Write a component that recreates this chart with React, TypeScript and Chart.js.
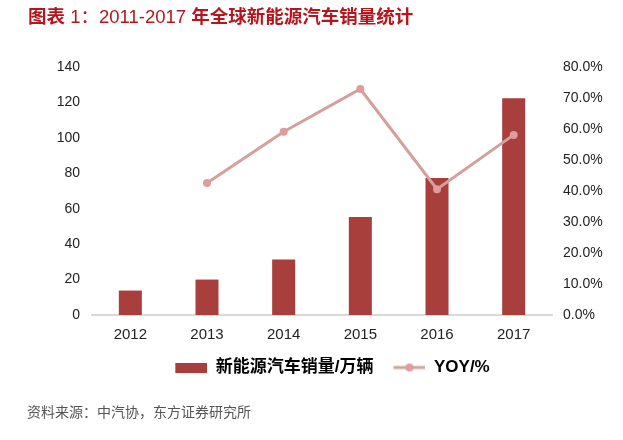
import React, { useEffect, useRef } from "react";
import { Chart, registerables } from "chart.js";

Chart.register(...registerables);

const years = ["2012", "2013", "2014", "2015", "2016", "2017"];
const sales = [13.8, 20.0, 31.3, 55.3, 77.4, 122.4];
const yoy = [null, 42.6, 59.1, 72.9, 40.6, 58.1];
const salesLabel = "新能源汽车销量/万辆";
const yoyLabel = "YOY/%";

const BAR_COLOR = "#A83F3D";
const LINE_COLOR = "#D3A09D";
const POINT_COLOR = "#DE9C9C";
const FONT = "'Liberation Sans', Arial, 'Noto Sans CJK SC', sans-serif";

function makeBarIcon() {
  const c = document.createElement("canvas");
  c.width = 38;
  c.height = 10;
  const ctx = c.getContext("2d")!;
  ctx.fillStyle = BAR_COLOR;
  ctx.fillRect(6, 0, 32, 10);
  return c;
}

function makeLineIcon() {
  const c = document.createElement("canvas");
  c.width = 38;
  c.height = 10;
  const ctx = c.getContext("2d")!;
  ctx.strokeStyle = LINE_COLOR;
  ctx.lineWidth = 3;
  ctx.beginPath();
  ctx.moveTo(6, 5);
  ctx.lineTo(38, 5);
  ctx.stroke();
  ctx.fillStyle = POINT_COLOR;
  ctx.beginPath();
  ctx.arc(22, 5, 4, 0, Math.PI * 2);
  ctx.fill();
  return c;
}

export default function App() {
  const ref = useRef<HTMLCanvasElement>(null);

  useEffect(() => {
    const barIcon = makeBarIcon();
    const lineIcon = makeLineIcon();
    const chart = new Chart(ref.current!, {
      data: {
        labels: years,
        datasets: [
          {
            type: "bar",
            label: salesLabel,
            data: sales,
            backgroundColor: BAR_COLOR,
            barPercentage: 0.3,
            categoryPercentage: 1,
            yAxisID: "y",
            order: 2,
          },
          {
            type: "line",
            label: yoyLabel,
            data: yoy,
            borderColor: LINE_COLOR,
            borderWidth: 3,
            pointRadius: 4,
            pointBackgroundColor: POINT_COLOR,
            pointBorderColor: POINT_COLOR,
            pointBorderWidth: 0,
            yAxisID: "y1",
            order: 1,
            spanGaps: false,
          },
        ],
      },
      options: {
        animation: false,
        responsive: false,
        maintainAspectRatio: false,
        layout: { padding: { top: 67, left: 36, right: 0, bottom: 54 } },
        plugins: {
          tooltip: { enabled: false },
          title: { display: false },
          legend: {
            position: "bottom",
            labels: {
              usePointStyle: true,
              pointStyleWidth: 38,
              boxHeight: 10,
              padding: 14,
              color: "#111",
              font: { family: FONT, size: 17, weight: "bold" },
              generateLabels: () => [
                {
                  text: salesLabel,
                  pointStyle: barIcon,
                  fillStyle: BAR_COLOR,
                  strokeStyle: BAR_COLOR,
                  lineWidth: 0,
                  datasetIndex: 0,
                  hidden: false,
                },
                {
                  text: yoyLabel,
                  pointStyle: lineIcon,
                  fillStyle: LINE_COLOR,
                  strokeStyle: LINE_COLOR,
                  lineWidth: 0,
                  datasetIndex: 1,
                  hidden: false,
                },
              ],
            },
          },
        },
        scales: {
          x: {
            grid: { display: false, drawTicks: false },
            border: { display: true, color: "#D9D9D9", width: 2 },
            ticks: {
              color: "#222",
              padding: 11,
              font: { family: FONT, size: 15 },
            },
            afterFit: (s: any) => {
              s.height = 30;
            },
          },
          y: {
            position: "left",
            min: 0,
            max: 140,
            grid: { display: false, drawTicks: false },
            border: { display: false },
            ticks: {
              stepSize: 20,
              color: "#222",
              padding: 12,
              font: { family: FONT, size: 14 },
            },
            afterFit: (s: any) => {
              s.width = 56;
            },
          },
          y1: {
            position: "right",
            min: 0,
            max: 80,
            grid: { display: false, drawTicks: false },
            border: { display: false },
            ticks: {
              stepSize: 10,
              color: "#222",
              padding: 11,
              font: { family: FONT, size: 14 },
              callback: (v: any) => Number(v).toFixed(1) + "%",
            },
            afterFit: (s: any) => {
              s.width = 71;
            },
          },
        },
      },
    } as any);
    return () => chart.destroy();
  }, []);

  return (
    <div
      style={{
        position: "absolute",
        left: 0,
        top: 0,
        width: 623,
        height: 440,
        background: "#fff",
        overflow: "hidden",
      }}
    >
      <canvas
        ref={ref}
        width={623}
        height={440}
        style={{ position: "absolute", left: 0, top: 0, width: 623, height: 440 }}
      />
      <div
        style={{
          position: "absolute",
          left: 28,
          top: 5,
          fontFamily: FONT,
          fontSize: 18.5,
          color: "#B5161D",
          whiteSpace: "nowrap",
          lineHeight: "24px",
        }}
      >
        <span style={{ fontWeight: "bold" }}>图表</span>
        <span> 1：2011-2017 </span>
        <span style={{ fontWeight: "bold" }}>年全球新能源汽车销量统计</span>
      </div>
      <div
        style={{
          position: "absolute",
          left: 27,
          top: 402,
          fontFamily: FONT,
          fontSize: 14,
          color: "#555",
          whiteSpace: "nowrap",
          lineHeight: "20px",
        }}
      >
        资料来源：中汽协，东方证券研究所
      </div>
    </div>
  );
}
